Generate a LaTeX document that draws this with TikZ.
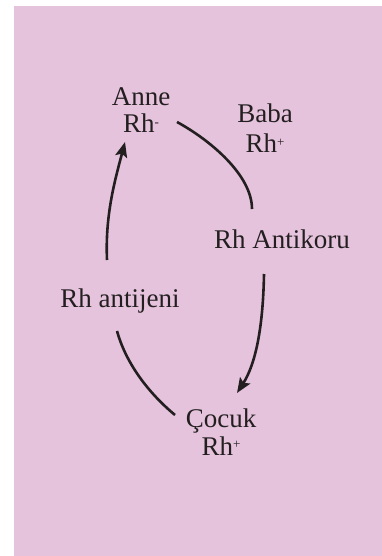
\documentclass[tikz,border=0pt]{standalone}
\usepackage{fontspec}
\setmainfont{Liberation Serif}
\usetikzlibrary{arrows.meta,calc}
\definecolor{bgpink}{RGB}{230,195,220}
\definecolor{ink}{RGB}{35,31,32}
\newcommand{\supsign}[1]{\raisebox{0.55ex}{\fontsize{13}{13}\selectfont #1}}
\begin{document}
\begin{tikzpicture}[x=1pt,y=-1pt,
  lbl/.style={anchor=base,inner sep=0pt,text=ink,font=\fontsize{27}{32}\selectfont},
  conn/.style={draw=ink,line width=2.6pt},
  arr/.style={conn,-{Stealth[length=15pt,width=12pt,inset=3pt]}}]
\useasboundingbox (0,0) rectangle (382,556);
\fill[bgpink] (14,6) rectangle (382,556);
\node[lbl] (anne) at (141,106) {Anne};
\node[lbl] (anneRh) at (141,133) {Rh\supsign{-}};
\node[lbl] (baba) at (265,123) {Baba};
\node[lbl] (babaRh) at (265,153) {Rh\supsign{+}};
\node[lbl] (antikoru) at (282,248) {Rh Antikoru};
\node[lbl] (antijeni) at (120,307) {Rh antijeni};
\node[lbl] (cocuk) at (221,427) {Çocuk};
\node[lbl] (cocukRh) at (221,455) {Rh\supsign{+}};
\draw[arr] ($(antijeni.base)+(-13,-47)$) .. controls (105,215) and (115,180) .. ($(anneRh.base)+(-16,9)$);
\draw[conn] ($(anneRh.base)+(36,-11)$) .. controls (210,140) and (252,175) .. ($(antikoru.base)+(-30,-39)$);
\draw[arr] ($(antikoru.base)+(-18,26)$) .. controls (263,330) and (255,365) .. ($(cocuk.base)+(16,-34)$);
\draw[conn] ($(antijeni.base)+(-3,24)$) .. controls (125,360) and (145,390) .. ($(cocuk.base)+(-46,-12)$);
\end{tikzpicture}
\end{document}
